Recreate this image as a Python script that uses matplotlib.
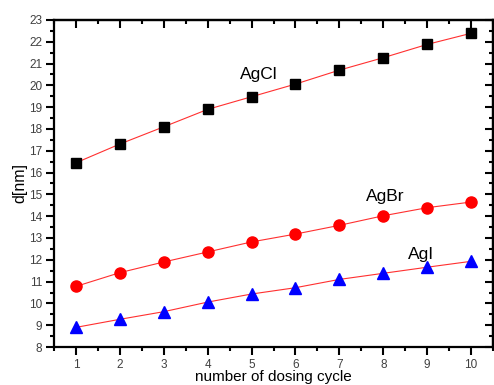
import matplotlib
matplotlib.use("Agg")
import matplotlib.pyplot as plt
from matplotlib.ticker import MultipleLocator

plt.rcParams['font.family'] = ['Liberation Sans', 'DejaVu Sans']

cycles = [1, 2, 3, 4, 5, 6, 7, 8, 9, 10]
agcl = [16.45, 17.31, 18.10, 18.90, 19.48, 20.06, 20.70, 21.27, 21.88, 22.39]
agbr = [10.78, 11.41, 11.90, 12.36, 12.82, 13.18, 13.58, 14.02, 14.39, 14.65]
agi = [8.90, 9.27, 9.62, 10.06, 10.43, 10.72, 11.10, 11.38, 11.66, 11.93]

W, H = 494, 385
fig = plt.figure(figsize=(W/100, H/100), dpi=100)
ax = fig.add_axes([54/W, 1-347/H, 439/W, (347-20)/H])

line_kw = dict(color='#ff3030', lw=0.8, zorder=2)
ax.plot(cycles, agcl, **line_kw)
ax.plot(cycles, agbr, **line_kw)
ax.plot(cycles, agi, **line_kw)
ax.plot(cycles, agcl, 's', color='black', ms=7.5, zorder=3, ls='none')
ax.plot(cycles, agbr, 'o', color='red', ms=8, zorder=3, ls='none')
ax.plot(cycles, agi, '^', color='blue', ms=8, zorder=3, ls='none')

def px_text(x, y, s, **kw):
    fig.text(x/W, 1-y/H, s, **kw)

px_text(240, 79, 'AgCl', fontsize=12.5, va='baseline', ha='left')
px_text(366, 201, 'AgBr', fontsize=12.5, va='baseline', ha='left')
px_text(408, 259, 'AgI', fontsize=12.5, va='baseline', ha='left')

ax.set_xlim(0.5, 10.5)
ax.set_ylim(8, 23)
ax.xaxis.set_major_locator(MultipleLocator(1))
ax.xaxis.set_minor_locator(MultipleLocator(0.5))
ax.yaxis.set_major_locator(MultipleLocator(1))
ax.yaxis.set_minor_locator(MultipleLocator(0.5))

for s in ax.spines.values():
    s.set_linewidth(1.6)

ax.tick_params(which='both', direction='out', top=False, right=False,
               labelsize=8.5, labelcolor='#404040', width=1.5)
ax.tick_params(which='major', length=6, pad=2.5)
ax.tick_params(which='minor', length=3)

ax2 = ax.secondary_xaxis('top')
ax2.xaxis.set_major_locator(MultipleLocator(1))
ax2.xaxis.set_minor_locator(MultipleLocator(0.5))
ax2.tick_params(which='both', direction='in', labeltop=False, width=1.5)
ax2.tick_params(which='major', length=6)
ax2.tick_params(which='minor', length=3)
ax3 = ax.secondary_yaxis('right')
ax3.yaxis.set_major_locator(MultipleLocator(1))
ax3.yaxis.set_minor_locator(MultipleLocator(0.5))
ax3.tick_params(which='both', direction='in', labelright=False, width=1.5)
ax3.tick_params(which='major', length=6)
ax3.tick_params(which='minor', length=3)
for a in (ax2, ax3):
    for s in a.spines.values():
        s.set_linewidth(1.6)

px_text(273, 381.5, 'number of dosing cycle', ha='center', va='baseline', fontsize=11)
px_text(20, 183, 'd[nm]', ha='center', va='center', rotation=90, fontsize=11.5)

fig.savefig('out.png', dpi=100)
